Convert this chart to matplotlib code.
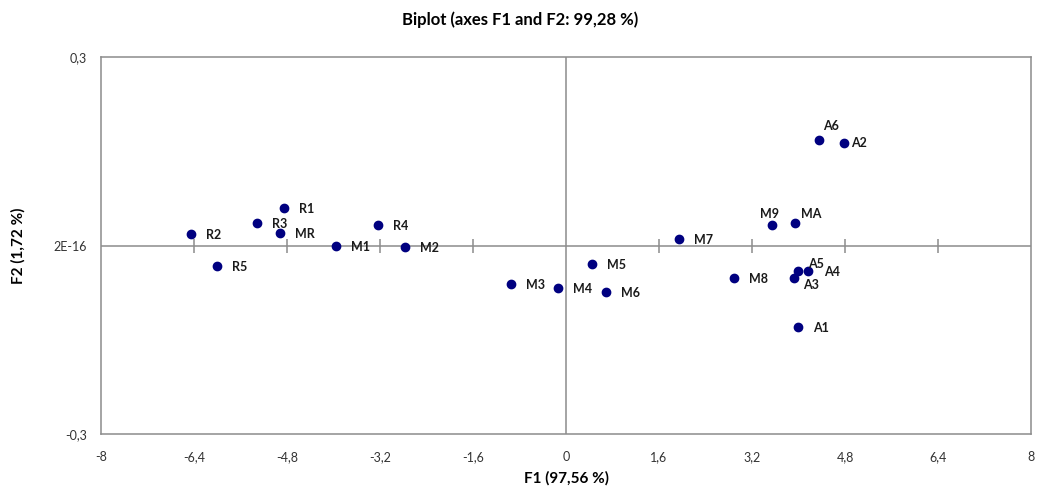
import matplotlib
matplotlib.use("Agg")
import matplotlib.pyplot as plt

labels = ["R2", "R3", "R1", "MR", "R5", "M1", "R4", "M2", "M3", "M4", "M5", "M6",
          "M7", "M8", "M9", "MA", "A6", "A2", "A5", "A4", "A3", "A1"]
f1 = [-6.45, -5.31, -4.85, -4.92, -6.00, -3.95, -3.24, -2.77, -0.95, -0.13, 0.45, 0.68,
      1.94, 2.89, 3.54, 3.94, 4.35, 4.78, 3.99, 4.16, 3.92, 3.99]
f2 = [0.019, 0.0365, 0.060, 0.020, -0.032, 0.0, 0.033, -0.0025, -0.061, -0.068, -0.029, -0.0735,
      0.011, -0.051, 0.033, 0.0365, 0.168, 0.164, -0.040, -0.041, -0.051, -0.130]
xticks = [-8, -6.4, -4.8, -3.2, -1.6, 0, 1.6, 3.2, 4.8, 6.4, 8]
xticklabels = ["-8", "-6,4", "-4,8", "-3,2", "-1,6", "0", "1,6", "3,2", "4,8", "6,4", "8"]
yticks = [-0.3, 0.0, 0.3]
yticklabels = ["-0,3", "2E-16", "0,3"]

# label offsets in pixels (dx right, dy down)
offsets = {"A6": (4, -14), "A2": (7, 0), "M9": (-12, -11), "MA": (6, -9),
           "A5": (10, -7), "A4": (16, 1), "A3": (9, 7)}
default_off = (15, 1)

plt.rcParams['font.family'] = ['Lato', 'DejaVu Sans']
fig = plt.figure(figsize=(10.38, 4.86), dpi=100)
ax = fig.add_axes([101 / 1038, 51.7 / 486, 930 / 1038, 377.3 / 486])
grey = "#8c8c8c"

ax.set_xlim(-8, 8)
ax.set_ylim(-0.3, 0.3)
ax.axhline(0, color=grey, lw=1.1, zorder=1)
ax.axvline(0, color=grey, lw=1.1, zorder=1)
inner = [t for t in xticks if t not in (-8, 0, 8)]
ax.plot(inner, [0] * len(inner), ls="none", marker="|", markersize=10,
        markeredgewidth=1.1, color=grey, zorder=1)

ax.scatter(f1, f2, s=36, color="#000080", zorder=3)
for lab, x, y in zip(labels, f1, f2):
    dx, dy = offsets.get(lab, default_off)
    ax.annotate(lab, (x, y), xytext=(dx * 0.72, -dy * 0.72), textcoords="offset points",
                ha="left", va="center", fontsize=9, fontweight="bold", color="#1a1a1a")

ax.set_xticks(xticks)
ax.set_xticklabels(xticklabels)
ax.set_yticks(yticks)
ax.set_yticklabels(yticklabels)
ax.tick_params(length=0, labelsize=9, colors="#333333")
ax.tick_params(axis="x", pad=12)
ax.tick_params(axis="y", pad=10)
for s in ax.spines.values():
    s.set_color(grey)
    s.set_linewidth(1.1)

ax.set_xlabel("F1 (97,56 %)", fontsize=11, fontweight="bold", labelpad=6)
ax.set_ylabel("F2 (1,72 %)", fontsize=11, fontweight="bold", labelpad=20)
fig.text(520 / 1038, 1 - 20 / 486, "Biplot (axes F1 and F2: 99,28 %)", ha="center", va="center",
         fontsize=12, fontweight="bold")

fig.savefig("out.png", dpi=100)
